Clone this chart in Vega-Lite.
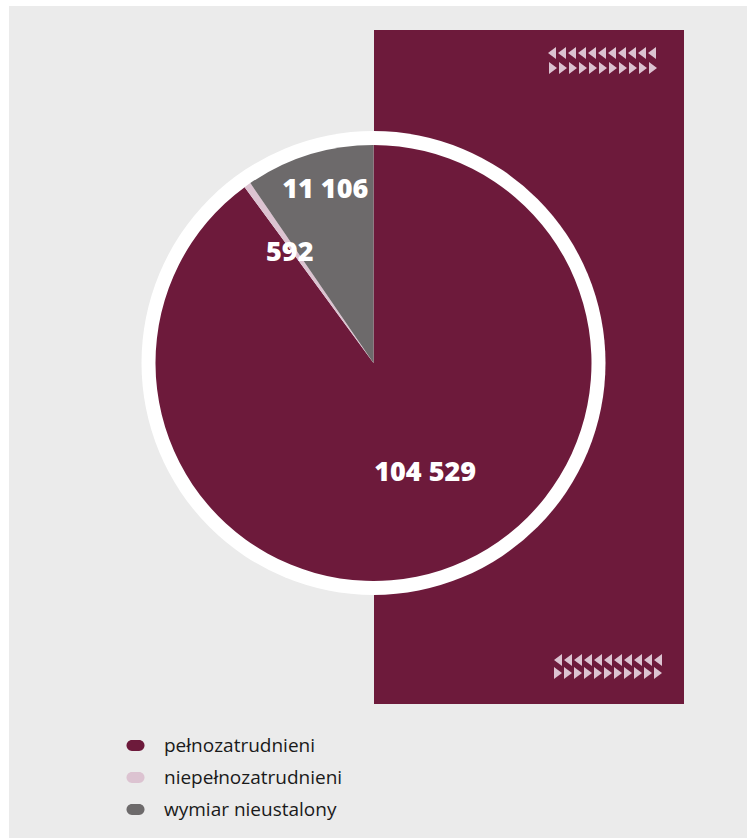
{
  "$schema": "https://vega.github.io/schema/vega-lite/v6.json",
  "width": 747,
  "height": 726,
  "padding": {"left": 0, "top": 0, "right": 0, "bottom": 112},
  "autosize": {"type": "none"},
  "background": "#ebebeb",
  "config": {
    "view": {"stroke": null},
    "locale": {"number": {"decimal": ",", "thousands": " ", "grouping": [3], "currency": ["", " zł"]}}
  },
  "datasets": {
    "ramka": [{"x": 0, "x2": 747, "y": 0, "y2": 6}, {"x": 0, "x2": 9, "y": 0, "y2": 838}],
    "pas": [{"x": 374, "x2": 684, "y": 30, "y2": 704}],
    "dane": [
      {"kat": "pełnozatrudnieni", "v": 104529, "lp": 1},
      {"kat": "niepełnozatrudnieni", "v": 592, "lp": 2},
      {"kat": "wymiar nieustalony", "v": 11106, "lp": 3}
    ],
    "trojkaty": [
      {"x": 552, "y": 53, "k": "l"}, {"x": 562, "y": 53, "k": "l"}, {"x": 572, "y": 53, "k": "l"}, {"x": 582, "y": 53, "k": "l"},
      {"x": 592, "y": 53, "k": "l"}, {"x": 602, "y": 53, "k": "l"}, {"x": 612, "y": 53, "k": "l"}, {"x": 622, "y": 53, "k": "l"},
      {"x": 632, "y": 53, "k": "l"}, {"x": 642, "y": 53, "k": "l"}, {"x": 652, "y": 53, "k": "l"},
      {"x": 553, "y": 68, "k": "p"}, {"x": 563, "y": 68, "k": "p"}, {"x": 573, "y": 68, "k": "p"}, {"x": 583, "y": 68, "k": "p"},
      {"x": 593, "y": 68, "k": "p"}, {"x": 603, "y": 68, "k": "p"}, {"x": 613, "y": 68, "k": "p"}, {"x": 623, "y": 68, "k": "p"},
      {"x": 633, "y": 68, "k": "p"}, {"x": 643, "y": 68, "k": "p"}, {"x": 653, "y": 68, "k": "p"},
      {"x": 558, "y": 660, "k": "l"}, {"x": 568, "y": 660, "k": "l"}, {"x": 578, "y": 660, "k": "l"}, {"x": 588, "y": 660, "k": "l"},
      {"x": 598, "y": 660, "k": "l"}, {"x": 608, "y": 660, "k": "l"}, {"x": 618, "y": 660, "k": "l"}, {"x": 628, "y": 660, "k": "l"},
      {"x": 638, "y": 660, "k": "l"}, {"x": 648, "y": 660, "k": "l"}, {"x": 658, "y": 660, "k": "l"},
      {"x": 558, "y": 673, "k": "p"}, {"x": 568, "y": 673, "k": "p"}, {"x": 578, "y": 673, "k": "p"}, {"x": 588, "y": 673, "k": "p"},
      {"x": 598, "y": 673, "k": "p"}, {"x": 608, "y": 673, "k": "p"}, {"x": 618, "y": 673, "k": "p"}, {"x": 628, "y": 673, "k": "p"},
      {"x": 638, "y": 673, "k": "p"}, {"x": 648, "y": 673, "k": "p"}, {"x": 658, "y": 673, "k": "p"}
    ]
  },
  "layer": [
    {
      "data": {"name": "ramka"},
      "mark": {"type": "rect", "fill": "#ffffff"},
      "encoding": {
        "x": {"field": "x", "type": "quantitative", "axis": null, "scale": {"domain": [0, 747], "nice": false, "zero": false}},
        "x2": {"field": "x2"},
        "y": {"field": "y", "type": "quantitative", "axis": null, "scale": {"domain": [0, 726], "nice": false, "zero": false, "reverse": true}},
        "y2": {"field": "y2"}
      }
    },
    {
      "data": {"name": "pas"},
      "mark": {"type": "rect", "fill": "#6d1a3b"},
      "encoding": {
        "x": {"field": "x", "type": "quantitative"},
        "x2": {"field": "x2"},
        "y": {"field": "y", "type": "quantitative"},
        "y2": {"field": "y2"}
      }
    },
    {
      "data": {"name": "trojkaty"},
      "mark": {"type": "point", "filled": true, "fill": "#dcc3d1", "opacity": 1, "strokeWidth": 0, "size": 144},
      "encoding": {
        "x": {"field": "x", "type": "quantitative"},
        "y": {"field": "y", "type": "quantitative"},
        "shape": {"field": "k", "type": "nominal", "legend": null,
          "scale": {"domain": ["l", "p"], "range": ["M0.67,-1L-0.67,0L0.67,1Z", "M-0.67,-1L0.67,0L-0.67,1Z"]}}
      }
    },
    {
      "data": {"values": [{"kolo": 1}]},
      "mark": {"type": "arc", "radius": 232, "theta": 0, "theta2": 6.2832, "fill": "#ffffff"},
      "encoding": {}
    },
    {
      "data": {"name": "dane"},
      "mark": {"type": "arc", "radius": 218},
      "encoding": {
        "theta": {"field": "v", "type": "quantitative", "stack": true},
        "order": {"field": "lp", "type": "quantitative"},
        "color": {
          "field": "kat", "type": "nominal",
          "scale": {"domain": ["pełnozatrudnieni", "niepełnozatrudnieni", "wymiar nieustalony"], "range": ["#6d1a3b", "#dcc3d1", "#6d6a6b"]},
          "legend": {
            "title": null, "orient": "none", "legendX": 126, "legendY": 736, "direction": "vertical",
            "symbolType": "M-0.4,-0.6L0.4,-0.6A0.6,0.6 0 0 1 0.4,0.6L-0.4,0.6A0.6,0.6 0 0 1 -0.4,-0.6Z",
            "symbolSize": 324, "symbolStrokeWidth": 0, "symbolOpacity": 1,
            "labelFont": "Open Sans", "labelFontSize": 19, "labelColor": "#1a1a1a", "labelOffset": 19,
            "rowPadding": 12, "padding": 0, "labelLimit": 400
          }
        }
      }
    },
    {
      "data": {"name": "dane"},
      "mark": {"type": "text", "radius": 121, "dx": 14, "dy": -5, "font": "Open Sans", "fontWeight": 800, "fontSize": 27, "fill": "#ffffff", "align": "center", "baseline": "middle"},
      "encoding": {
        "theta": {"field": "v", "type": "quantitative", "stack": true},
        "order": {"field": "lp", "type": "quantitative"},
        "text": {"condition": {"test": "datum.kat === 'pełnozatrudnieni'", "field": "v", "type": "quantitative", "format": ",d"}, "value": ""}
      }
    },
    {
      "data": {"name": "dane"},
      "mark": {"type": "text", "radius": 138, "dx": -4, "dy": 3, "font": "Open Sans", "fontWeight": 800, "fontSize": 27, "fill": "#ffffff", "align": "center", "baseline": "middle"},
      "encoding": {
        "theta": {"field": "v", "type": "quantitative", "stack": true},
        "order": {"field": "lp", "type": "quantitative"},
        "text": {"condition": {"test": "datum.kat === 'niepełnozatrudnieni'", "field": "v", "type": "quantitative", "format": ",d"}, "value": ""}
      }
    },
    {
      "data": {"name": "dane"},
      "mark": {"type": "text", "radius": 180, "dx": 5, "dy": -1.5, "font": "Open Sans", "fontWeight": 800, "fontSize": 27, "fill": "#ffffff", "align": "center", "baseline": "middle"},
      "encoding": {
        "theta": {"field": "v", "type": "quantitative", "stack": true},
        "order": {"field": "lp", "type": "quantitative"},
        "text": {"condition": {"test": "datum.kat === 'wymiar nieustalony'", "field": "v", "type": "quantitative", "format": ",d"}, "value": ""}
      }
    }
  ]
}
